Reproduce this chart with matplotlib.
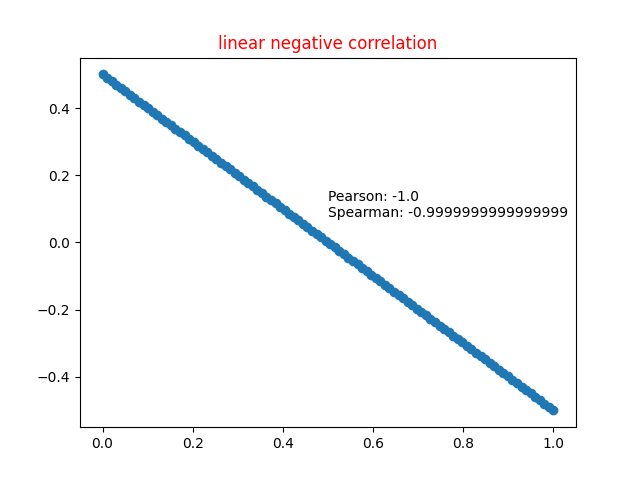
import matplotlib
matplotlib.use("Agg")
import matplotlib.pyplot as plt

# x and y values (100 evenly spaced points)
x = [0.0000, 0.0101, 0.0202, 0.0303, 0.0404, 0.0505, 0.0606, 0.0707, 0.0808, 0.0909,
     0.1010, 0.1111, 0.1212, 0.1313, 0.1414, 0.1515, 0.1616, 0.1717, 0.1818, 0.1919,
     0.2020, 0.2121, 0.2222, 0.2323, 0.2424, 0.2525, 0.2626, 0.2727, 0.2828, 0.2929,
     0.3030, 0.3131, 0.3232, 0.3333, 0.3434, 0.3535, 0.3636, 0.3737, 0.3838, 0.3939,
     0.4040, 0.4141, 0.4242, 0.4343, 0.4444, 0.4545, 0.4646, 0.4747, 0.4848, 0.4949,
     0.5050, 0.5151, 0.5252, 0.5353, 0.5454, 0.5555, 0.5656, 0.5757, 0.5858, 0.5959,
     0.6060, 0.6161, 0.6262, 0.6363, 0.6464, 0.6565, 0.6666, 0.6767, 0.6868, 0.6969,
     0.7070, 0.7171, 0.7272, 0.7373, 0.7474, 0.7575, 0.7676, 0.7777, 0.7878, 0.7979,
     0.8080, 0.8181, 0.8282, 0.8383, 0.8484, 0.8585, 0.8686, 0.8787, 0.8888, 0.8989,
     0.9090, 0.9191, 0.9292, 0.9393, 0.9494, 0.9595, 0.9696, 0.9797, 0.9898, 1.0000]

y = [0.5000, 0.4899, 0.4798, 0.4697, 0.4596, 0.4495, 0.4394, 0.4293, 0.4192, 0.4091,
     0.3990, 0.3889, 0.3788, 0.3687, 0.3586, 0.3485, 0.3384, 0.3283, 0.3182, 0.3081,
     0.2980, 0.2879, 0.2778, 0.2677, 0.2576, 0.2475, 0.2374, 0.2273, 0.2172, 0.2071,
     0.1970, 0.1869, 0.1768, 0.1667, 0.1566, 0.1465, 0.1364, 0.1263, 0.1162, 0.1061,
     0.0960, 0.0859, 0.0758, 0.0657, 0.0556, 0.0455, 0.0354, 0.0253, 0.0152, 0.0051,
     -0.0050, -0.0151, -0.0252, -0.0353, -0.0454, -0.0555, -0.0656, -0.0757, -0.0858, -0.0959,
     -0.1060, -0.1161, -0.1262, -0.1363, -0.1464, -0.1565, -0.1666, -0.1767, -0.1868, -0.1969,
     -0.2070, -0.2171, -0.2272, -0.2373, -0.2474, -0.2575, -0.2676, -0.2777, -0.2878, -0.2979,
     -0.3080, -0.3181, -0.3282, -0.3383, -0.3484, -0.3585, -0.3686, -0.3787, -0.3888, -0.3989,
     -0.4090, -0.4191, -0.4292, -0.4393, -0.4494, -0.4595, -0.4696, -0.4797, -0.4898, -0.5000]

pearson_label = "Pearson: -1.0"
spearman_label = "Spearman: -0.9999999999999999"

fig, ax = plt.subplots(figsize=(6.4, 4.8), dpi=100)
ax.scatter(x, y)
ax.set_title("linear negative correlation", color="red")
ax.text(0.5, 0.075, pearson_label + "\n" + spearman_label)

fig.savefig("out.png")
